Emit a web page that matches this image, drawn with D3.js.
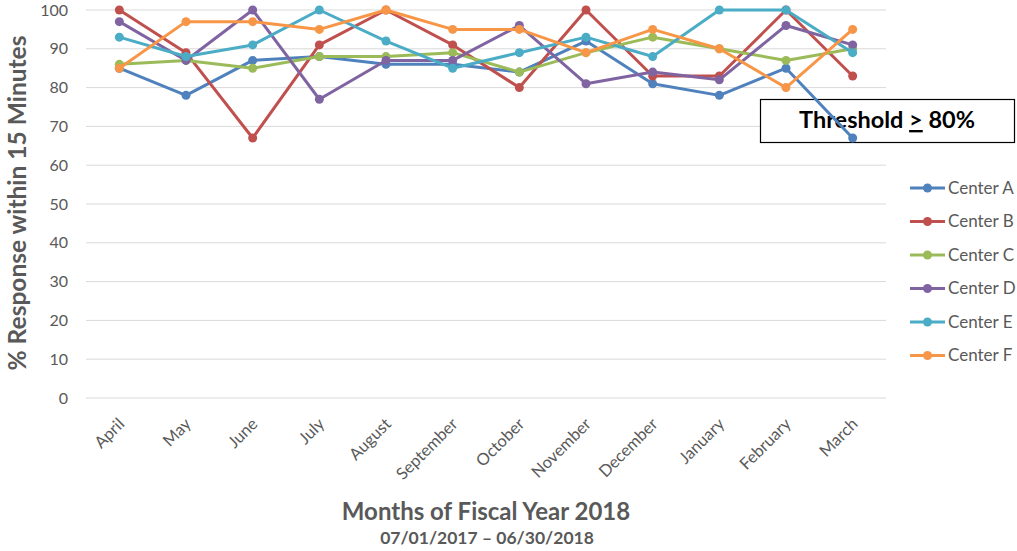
<!DOCTYPE html>
<html><head><meta charset="utf-8">
<script src="https://cdn.jsdelivr.net/npm/d3@7"></script>
<style>body{margin:0;background:#fff;font-family:Lato,"Open Sans",sans-serif}</style>
</head><body><svg id="c" width="1017" height="551"></svg>
<script>
const months = ["April","May","June","July","August","September","October","November","December","January","February","March"];
const seriesNames = ["Center A","Center B","Center C","Center D","Center E","Center F"];
const centerA = [85,78,87,88,86,86,84,92,81,78,85,67];
const centerB = [100,89,67,91,100,91,80,100,83,83,100,83];
const centerC = [86,87,85,88,88,89,84,89,93,90,87,90];
const centerD = [97,87,100,77,87,87,96,81,84,82,96,91];
const centerE = [93,88,91,100,92,85,89,93,88,100,100,89];
const centerF = [85,97,97,95,100,95,95,89,95,90,80,95];
const colors = ["#4f81bd","#c0504d","#9bbb59","#8064a2","#4bacc6","#f79646"];
const yTicks = [0,10,20,30,40,50,60,70,80,90,100];
const threshold = 80.6;
const seriesValues = [centerA,centerB,centerC,centerD,centerE,centerF];

const FF = "Lato, 'Open Sans', sans-serif";
const svg = d3.select("#c");
const x = d3.scaleBand().domain(months).range([86,886]);
const y = d3.scaleLinear().domain([0,100]).range([398,10]);
const cx = m => x(m) + x.bandwidth()/2;

const defs = svg.append("defs");
const f = defs.append("filter").attr("id","sh").attr("x","-5%").attr("y","-200%").attr("width","110%").attr("height","500%");
f.append("feDropShadow").attr("dx",1).attr("dy",2).attr("stdDeviation",1.5).attr("flood-color","#000").attr("flood-opacity",0.45);

// gridlines
svg.append("g").selectAll("line").data(yTicks).join("line")
  .attr("x1",86).attr("x2",886).attr("y1",d=>y(d)).attr("y2",d=>y(d))
  .attr("stroke","#d9d9d9").attr("stroke-width",1);

// y axis labels
const ya = svg.append("g").attr("transform","translate(86,0)")
  .call(d3.axisLeft(y).tickValues(yTicks).tickSize(0).tickPadding(18));
ya.select(".domain").remove();
ya.selectAll("text").attr("font-family",FF).attr("font-size",16).attr("fill","#595959");

// x axis labels
const xa = svg.append("g").attr("transform","translate(0,398)")
  .call(d3.axisBottom(x).tickSize(0));
xa.select(".domain").remove();
xa.selectAll("text").attr("font-family",FF).attr("font-size",16.5).attr("fill","#595959")
  .attr("text-anchor","end").attr("transform","translate(2,23) rotate(-45)").attr("dy","0.35em").attr("y",0).attr("x",0);

// threshold box
const bx = svg.append("g");
bx.append("rect").attr("x",760.5).attr("y",99.5).attr("width",254).attr("height",43).attr("fill","#fff").attr("stroke","#000").attr("stroke-width",1.2);
const tt = bx.append("text").attr("x",887).attr("y",128).attr("text-anchor","middle").attr("font-size",23.5).attr("font-weight","bold").attr("fill","#000")
  .attr("font-family",FF);
tt.append("tspan").text("Threshold ");
tt.append("tspan").attr("text-decoration","underline").text(">");
tt.append("tspan").text(" 80%");

// series
const line = d3.line().x((d,i)=>cx(months[i])).y(d=>y(d));
seriesValues.forEach((vals,k)=>{
  const g = svg.append("g");
  g.append("path").datum(vals).attr("d",line).attr("fill","none").attr("stroke",colors[k]).attr("stroke-width",3).attr("stroke-linejoin","round");
  g.selectAll("circle").data(vals).join("circle").attr("cx",(d,i)=>cx(months[i])).attr("cy",d=>y(d)).attr("r",4.5).attr("fill",colors[k]);
});

// threshold line
svg.append("line").attr("x1",84).attr("x2",887).attr("y1",y(threshold)).attr("y2",y(threshold))
  .attr("stroke","#000").attr("stroke-width",3.5).attr("filter","url(#sh)");

// legend
const lg = svg.append("g");
seriesNames.forEach((n,k)=>{
  const ly = 188 + k*33.5;
  lg.append("line").attr("x1",910).attr("x2",945).attr("y1",ly).attr("y2",ly).attr("stroke",colors[k]).attr("stroke-width",3);
  lg.append("circle").attr("cx",927.5).attr("cy",ly).attr("r",4.5).attr("fill",colors[k]);
  lg.append("text").attr("x",948).attr("y",ly).attr("dy","0.35em").attr("font-family",FF).attr("font-size",17).attr("fill","#595959").text(n);
});

// axis titles
svg.append("text").attr("transform","translate(26,203) rotate(-90)").attr("text-anchor","middle").attr("font-family",FF)
  .attr("font-size",24.5).attr("font-weight","bold").attr("fill","#595959").text("% Response within 15 Minutes");
svg.append("text").attr("x",486).attr("y",520).attr("text-anchor","middle").attr("font-family",FF)
  .attr("font-size",24).attr("font-weight","bold").attr("fill","#595959").text("Months of Fiscal Year 2018");
svg.append("text").attr("x",487).attr("y",544).attr("text-anchor","middle").attr("font-family",FF)
  .attr("font-size",17.5).attr("font-weight","bold").attr("fill","#595959").text("07/01/2017 – 06/30/2018");
</script></body></html>
